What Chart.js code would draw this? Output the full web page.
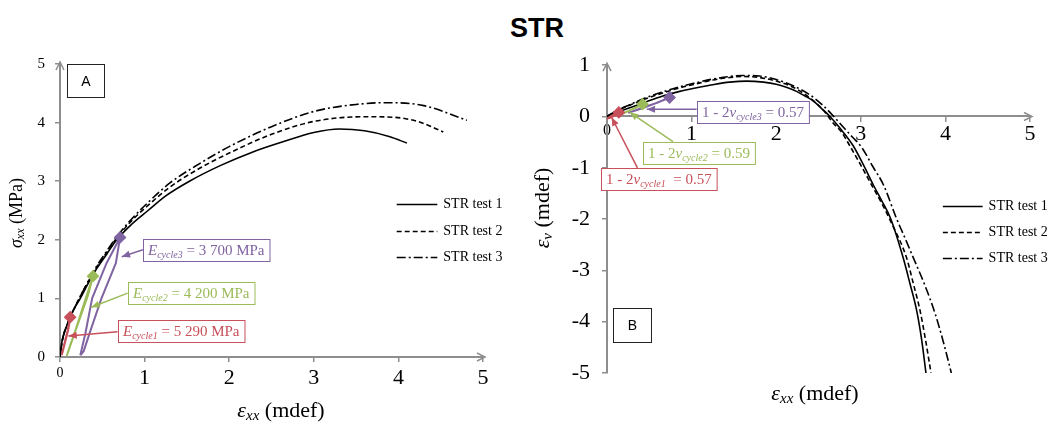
<!DOCTYPE html>
<html>
<head>
<meta charset="utf-8">
<script src="https://cdn.jsdelivr.net/npm/chart.js@4.4.1/dist/chart.umd.min.js"></script>
<style>
  body { margin: 0; background: #fff; width: 1054px; height: 425px; position: relative; overflow: hidden; }
  #title { position: absolute; left: 0; top: 13px; width: 1074px; text-align: center; line-height: 30px;
           font: bold 27px "Liberation Sans", Arial, sans-serif; color: #000; }
  .panel { position: absolute; top: 40px; width: 527px; height: 385px; }
</style>
</head>
<body>
<div id="title">STR</div>
<div class="panel" style="left:0"><canvas id="chartA" width="527" height="385"></canvas></div>
<div class="panel" style="left:527px"><canvas id="chartB" width="527" height="385"></canvas></div>
<script>
// ---- panel A: axial stress vs axial strain ----
const sigT1X = [0, 0.02, 0.06, 0.14, 0.24, 0.33, 0.43, 0.55, 0.67, 0.85, 1.04, 1.25, 1.53, 1.9, 2.28, 2.65, 3.0, 3.3, 3.6, 3.9, 4.1];
const sigT1Y = [0, 0.24, 0.45, 0.75, 1.0, 1.25, 1.5, 1.75, 2.0, 2.27, 2.5, 2.75, 3.0, 3.27, 3.5, 3.68, 3.83, 3.89, 3.86, 3.76, 3.65];
const sigT2X = [0, 0.03, 0.1, 0.2, 0.3, 0.42, 0.55, 0.68, 0.85, 1.05, 1.3, 1.65, 2.0, 2.5, 3.0, 3.59, 3.95, 4.25, 4.53];
const sigT2Y = [0, 0.3, 0.6, 0.92, 1.2, 1.5, 1.78, 2.05, 2.33, 2.6, 2.9, 3.22, 3.48, 3.8, 4.02, 4.1, 4.09, 4.01, 3.84];
const sigT3X = [0, 0.03, 0.1, 0.2, 0.3, 0.42, 0.55, 0.68, 0.85, 1.05, 1.3, 1.65, 2.0, 2.5, 3.0, 3.5, 3.86, 4.3, 4.81];
const sigT3Y = [0, 0.3, 0.6, 0.92, 1.2, 1.52, 1.8, 2.07, 2.36, 2.65, 2.97, 3.3, 3.59, 3.93, 4.19, 4.31, 4.34, 4.29, 4.04];
// unload/reload loops
const sigC1X = [0.02, 0.05, 0.09, 0.12, 0.1, 0.06, 0.03, 0.02];
const sigC1Y = [0.03, 0.22, 0.45, 0.68, 0.48, 0.25, 0.08, 0.03];
const sigC2X = [0.08, 0.17, 0.27, 0.39, 0.33, 0.22, 0.12, 0.08];
const sigC2Y = [0.02, 0.4, 0.85, 1.38, 1.05, 0.6, 0.2, 0.02];
const sigC3X = [0.24, 0.3, 0.38, 0.55, 0.71, 0.66, 0.49, 0.36, 0.28, 0.24];
const sigC3Y = [0.03, 0.4, 1.0, 1.6, 2.04, 1.6, 1.0, 0.45, 0.1, 0.03];

// ---- panel B: volumetric strain vs axial strain ----
const volT1X = [0, 0.1, 0.27, 0.45, 0.66, 0.86, 1.06, 1.25, 1.45, 1.65, 1.85, 2.0, 2.12, 2.24, 2.34, 2.44, 2.54, 2.63, 2.75, 2.91, 3.03, 3.15, 3.25, 3.35, 3.5, 3.58, 3.66, 3.72, 3.77];
const volT1Y = [0, 0.07, 0.17, 0.28, 0.4, 0.49, 0.56, 0.62, 0.67, 0.69, 0.67, 0.63, 0.57, 0.49, 0.4, 0.3, 0.15, 0.01, -0.22, -0.57, -0.94, -1.34, -1.65, -1.98, -2.75, -3.25, -3.78, -4.36, -5.0];
const volT2X = [0, 0.1, 0.27, 0.45, 0.66, 0.86, 1.06, 1.25, 1.45, 1.6, 1.8, 2.0, 2.2, 2.35, 2.48, 2.58, 2.67, 2.77, 2.87, 3.0, 3.13, 3.25, 3.37, 3.54, 3.62, 3.7, 3.77, 3.83];
const volT2Y = [0, 0.1, 0.22, 0.34, 0.46, 0.56, 0.64, 0.71, 0.76, 0.78, 0.76, 0.69, 0.57, 0.42, 0.25, 0.08, -0.12, -0.3, -0.57, -0.95, -1.34, -1.7, -2.1, -2.75, -3.25, -3.78, -4.4, -5.0];
const volT3X = [0, 0.1, 0.27, 0.45, 0.66, 0.86, 1.06, 1.25, 1.45, 1.6, 1.8, 2.0, 2.2, 2.4, 2.55, 2.67, 2.8, 2.9, 3.01, 3.14, 3.27, 3.42, 3.52, 3.62, 3.76, 3.88, 3.98, 4.07];
const volT3Y = [0, 0.1, 0.23, 0.36, 0.48, 0.58, 0.66, 0.73, 0.78, 0.8, 0.79, 0.72, 0.6, 0.42, 0.22, 0.02, -0.22, -0.4, -0.6, -0.97, -1.34, -1.98, -2.36, -2.75, -3.3, -3.85, -4.42, -5.0];
const volC1X = [0.0, 0.06, 0.14, 0.1, 0.03, 0.0];
const volC1Y = [-0.04, 0.02, 0.08, 0.02, -0.03, -0.04];
const volC2X = [0.13, 0.22, 0.32, 0.42, 0.34, 0.24, 0.16, 0.13];
const volC2Y = [0.01, 0.08, 0.16, 0.24, 0.17, 0.1, 0.04, 0.01];
const volC3X = [0.25, 0.4, 0.55, 0.74, 0.6, 0.45, 0.3, 0.25];
const volC3Y = [0.07, 0.15, 0.24, 0.37, 0.27, 0.19, 0.1, 0.07];

const testLabels = ['STR test 1', 'STR test 2', 'STR test 3'];
const strainTicks = [0, 1, 2, 3, 4, 5];
const stressTicks = [0, 1, 2, 3, 4, 5];
const volTicks = [-5, -4, -3, -2, -1, 0, 1];

const serif = '"Liberation Serif", "Times New Roman", serif';
const sans = '"Liberation Sans", Arial, sans-serif';
const axisGrey = '#8e8e8e';
const red = '#c8505a', green = '#9bbb59', purple = '#8064a2';
const dashes = [[], [5, 3], [9, 3, 2, 3]];

Chart.defaults.font.family = serif;
Chart.defaults.color = '#000';

const pts = (xs, ys) => xs.map((x, i) => ({ x: x, y: ys[i] }));

function curve(i, xs, ys) {
  return {
    label: testLabels[i], data: pts(xs, ys), showLine: true, order: 1,
    borderColor: '#000', borderWidth: 1.6, borderDash: dashes[i],
    pointRadius: 0, cubicInterpolationMode: 'monotone'
  };
}
function loop(xs, ys, color, top) {
  return {
    label: '', data: pts(xs, ys), showLine: true, order: 0,
    borderColor: color, borderWidth: 2, tension: 0,
    pointStyle: 'rectRot', pointBackgroundColor: color, pointBorderColor: color,
    pointRadius: c => (c.dataIndex === top ? 5 : 0)
  };
}

// draws text made of normal / italic / subscript pieces, returns width
function rich(ctx, parts, x, y, size, draw) {
  let cx = x;
  parts.forEach(p => {
    const s = p.sub ? Math.round(size * 0.68) : size;
    ctx.font = (p.it ? 'italic ' : '') + s + 'px ' + serif;
    if (draw) ctx.fillText(p.t, cx, p.sub ? y + size * 0.22 : y);
    cx += ctx.measureText(p.t).width;
  });
  return cx - x;
}

function arrow(ctx, x0, y0, x1, y1, color) {
  const ang = Math.atan2(y1 - y0, x1 - x0);
  ctx.strokeStyle = color; ctx.fillStyle = color; ctx.lineWidth = 1.5;
  ctx.beginPath(); ctx.moveTo(x0, y0); ctx.lineTo(x1, y1); ctx.stroke();
  ctx.beginPath();
  ctx.moveTo(x1, y1);
  ctx.lineTo(x1 - 9 * Math.cos(ang - 0.4), y1 - 9 * Math.sin(ang - 0.4));
  ctx.lineTo(x1 - 9 * Math.cos(ang + 0.4), y1 - 9 * Math.sin(ang + 0.4));
  ctx.closePath(); ctx.fill();
}

const overlay = {
  id: 'overlay',
  afterDatasetsDraw(chart, args, o) {
    const { ctx, scales: { x, y } } = chart;
    const px = v => x.getPixelForValue(v), py = v => y.getPixelForValue(v);
    ctx.save();
    ctx.textBaseline = 'alphabetic'; ctx.textAlign = 'left';
    o.notes.forEach(n => {
      arrow(ctx, px(n.from[0]), py(n.from[1]), px(n.to[0]), py(n.to[1]), n.color);
      const w = rich(ctx, n.parts, 0, 0, n.size, false) + 10;
      const bx = Math.round(px(n.box[0])), by = Math.round(py(n.box[1]));
      ctx.fillStyle = '#fff'; ctx.fillRect(bx, by - 11, w, 22);
      ctx.strokeStyle = n.color; ctx.lineWidth = 1; ctx.strokeRect(bx + 0.5, by - 10.5, w, 22);
      ctx.fillStyle = n.color;
      rich(ctx, n.parts, bx + 5, by + 5, n.size, true);
    });
    ctx.restore();
  },
  afterDraw(chart, args, o) {
    const { ctx, chartArea: a, scales: { x, y } } = chart;
    const px = v => x.getPixelForValue(v), py = v => y.getPixelForValue(v);
    ctx.save();
    // arrow heads at the axis ends
    const ox = px(0), oy = py(Math.max(y.min, 0));
    ctx.strokeStyle = axisGrey; ctx.lineWidth = 1.5;
    ctx.beginPath();
    ctx.moveTo(ox - 4, a.top + 6); ctx.lineTo(ox, a.top - 2); ctx.lineTo(ox + 4, a.top + 6);
    ctx.moveTo(a.right - 6, oy - 4); ctx.lineTo(a.right + 2, oy); ctx.lineTo(a.right - 6, oy + 4);
    ctx.stroke();

    // panel tag
    const t = o.tag;
    const tx = Math.round(px(t.x)) + 0.5, ty = Math.round(py(t.y)) + 0.5;
    ctx.fillStyle = '#fff'; ctx.fillRect(tx, ty, t.w, t.h);
    ctx.strokeStyle = '#222'; ctx.lineWidth = 1; ctx.strokeRect(tx, ty, t.w, t.h);
    ctx.fillStyle = '#000'; ctx.font = '14px ' + sans;
    ctx.textAlign = 'center'; ctx.textBaseline = 'middle';
    ctx.fillText(t.text, tx + t.w / 2, ty + t.h / 2 + 1);

    // legend
    const L = o.legend;
    chart.data.datasets.filter(d => d.label).forEach((d, i) => {
      const ly = Math.round(py(L.rows[i])) + 0.5;
      ctx.strokeStyle = '#000'; ctx.lineWidth = 1.6; ctx.setLineDash(d.borderDash);
      ctx.beginPath(); ctx.moveTo(px(L.x0), ly); ctx.lineTo(px(L.x1), ly); ctx.stroke();
      ctx.setLineDash([]);
      ctx.font = '14px ' + serif; ctx.textAlign = 'left'; ctx.textBaseline = 'middle';
      ctx.fillText(d.label, px(L.x1) + 6, ly);
    });

    // axis titles
    ctx.fillStyle = '#000'; ctx.textBaseline = 'middle'; ctx.textAlign = 'left';
    const xt = o.xTitle;
    const xw = rich(ctx, xt.parts, 0, 0, xt.size, false);
    rich(ctx, xt.parts, xt.cx - xw / 2, xt.cy, xt.size, true);
    const yt = o.yTitle;
    ctx.translate(yt.cx, yt.cy); ctx.rotate(-Math.PI / 2);
    const yw = rich(ctx, yt.parts, 0, 0, yt.size, false);
    rich(ctx, yt.parts, -yw / 2, 0, yt.size, true);
    ctx.restore();
  }
};

function axisGrid() {
  return { display: true, drawOnChartArea: false, drawTicks: true, tickLength: 5, color: axisGrey, lineWidth: 1.5 };
}
const border = { display: true, color: axisGrey, width: 2 };
const epsXX = [{ t: 'ε', it: true }, { t: 'xx', it: true, sub: true }, { t: ' (mdef)' }];

new Chart(document.getElementById('chartA'), {
  type: 'scatter',
  data: {
    datasets: [
      curve(0, sigT1X, sigT1Y), curve(1, sigT2X, sigT2Y), curve(2, sigT3X, sigT3Y),
      loop(sigC1X, sigC1Y, red, 3), loop(sigC2X, sigC2Y, green, 3), loop(sigC3X, sigC3Y, purple, 4)
    ]
  },
  options: {
    responsive: false, animation: false,
    layout: { padding: { top: 24, right: 44, left: 0, bottom: 0 } },
    scales: {
      x: {
        type: 'linear', min: 0, max: 5, grid: axisGrid(), border: border,
        afterBuildTicks: s => { s.ticks = strainTicks.map(v => ({ value: v })); },
        afterFit: s => { s.height = 68; },
        ticks: { padding: 3, maxRotation: 0, callback: v => String(v),
                 font: c => ({ size: c.tick && c.tick.value === 0 ? 14 : 22, family: serif }) }
      },
      y: {
        type: 'linear', min: 0, max: 5, grid: axisGrid(), border: border,
        afterBuildTicks: s => { s.ticks = stressTicks.map(v => ({ value: v })); },
        afterFit: s => { s.width = 60; },
        ticks: { padding: 10, callback: v => String(v), font: { size: 15, family: serif } }
      }
    },
    plugins: {
      legend: { display: false }, tooltip: { enabled: false },
      overlay: {
        tag: { text: 'A', x: 0.08, y: 5, w: 37, h: 33 },
        legend: { x0: 3.98, x1: 4.46, rows: [2.61, 2.15, 1.71] },
        xTitle: { parts: epsXX, size: 22, cx: 281, cy: 371 },
        yTitle: { parts: [{ t: 'σ', it: true }, { t: 'xx', it: true, sub: true }, { t: ' (MPa)' }], size: 18, cx: 17, cy: 173 },
        notes: [
          { color: purple, size: 15, box: [0.98, 1.83], from: [0.98, 1.83], to: [0.73, 1.71],
            parts: [{ t: 'E', it: true }, { t: 'cycle3', it: true, sub: true }, { t: ' = 3 700 MPa' }] },
          { color: green, size: 15, box: [0.8, 1.1], from: [0.8, 1.09], to: [0.37, 0.85],
            parts: [{ t: 'E', it: true }, { t: 'cycle2', it: true, sub: true }, { t: ' = 4 200 MPa' }] },
          { color: red, size: 15, box: [0.68, 0.44], from: [0.68, 0.43], to: [0.1, 0.36],
            parts: [{ t: 'E', it: true }, { t: 'cycle1', it: true, sub: true }, { t: ' = 5 290 MPa' }] }
        ]
      }
    }
  },
  plugins: [overlay]
});

new Chart(document.getElementById('chartB'), {
  type: 'scatter',
  data: {
    datasets: [
      curve(0, volT1X, volT1Y), curve(1, volT2X, volT2Y), curve(2, volT3X, volT3Y),
      loop(volC1X, volC1Y, red, 2), loop(volC2X, volC2Y, green, 3), loop(volC3X, volC3Y, purple, 3)
    ]
  },
  options: {
    responsive: false, animation: false,
    layout: { padding: { top: 23, right: 24, left: 0, bottom: 52 } },
    scales: {
      x: {
        type: 'linear', min: 0, max: 5, position: { y: 0 }, grid: axisGrid(), border: border,
        afterBuildTicks: s => { s.ticks = strainTicks.map(v => ({ value: v })); },
        ticks: { padding: 0, maxRotation: 0, callback: v => String(v),
                 font: c => ({ size: c.tick && c.tick.value === 0 ? 16 : 22, family: serif }) }
      },
      y: {
        type: 'linear', min: -5, max: 1, grid: axisGrid(), border: border,
        afterBuildTicks: s => { s.ticks = volTicks.map(v => ({ value: v })); },
        afterFit: s => { s.width = 80; },
        ticks: { padding: 12, callback: v => String(v), font: { size: 22, family: serif } }
      }
    },
    plugins: {
      legend: { display: false }, tooltip: { enabled: false },
      overlay: {
        tag: { text: 'B', x: 0.07, y: -3.74, w: 38, h: 34 },
        legend: { x0: 3.97, x1: 4.44, rows: [-1.74, -2.26, -2.76] },
        xTitle: { parts: epsXX, size: 22, cx: 288, cy: 354 },
        yTitle: { parts: [{ t: 'ε', it: true }, { t: 'v', it: true, sub: true }, { t: ' (mdef)' }], size: 22, cx: 16, cy: 168 },
        notes: [
          { color: purple, size: 15, box: [1.06, 0.09], from: [1.06, 0.14], to: [0.47, 0.14],
            parts: [{ t: '1 - 2' }, { t: 'v', it: true }, { t: 'cycle3', it: true, sub: true }, { t: ' = 0.57' }] },
          { color: green, size: 15, box: [0.43, -0.71], from: [0.78, -0.49], to: [0.27, 0.08],
            parts: [{ t: '1 - 2' }, { t: 'v', it: true }, { t: 'cycle2', it: true, sub: true }, { t: ' = 0.59' }] },
          { color: red, size: 15, box: [-0.07, -1.22], from: [0.36, -1.0], to: [0.055, -0.02],
            parts: [{ t: '1 - 2' }, { t: 'v', it: true }, { t: 'cycle1', it: true, sub: true }, { t: '  = 0.57' }] }
        ]
      }
    }
  },
  plugins: [overlay]
});
</script>
</body>
</html>
